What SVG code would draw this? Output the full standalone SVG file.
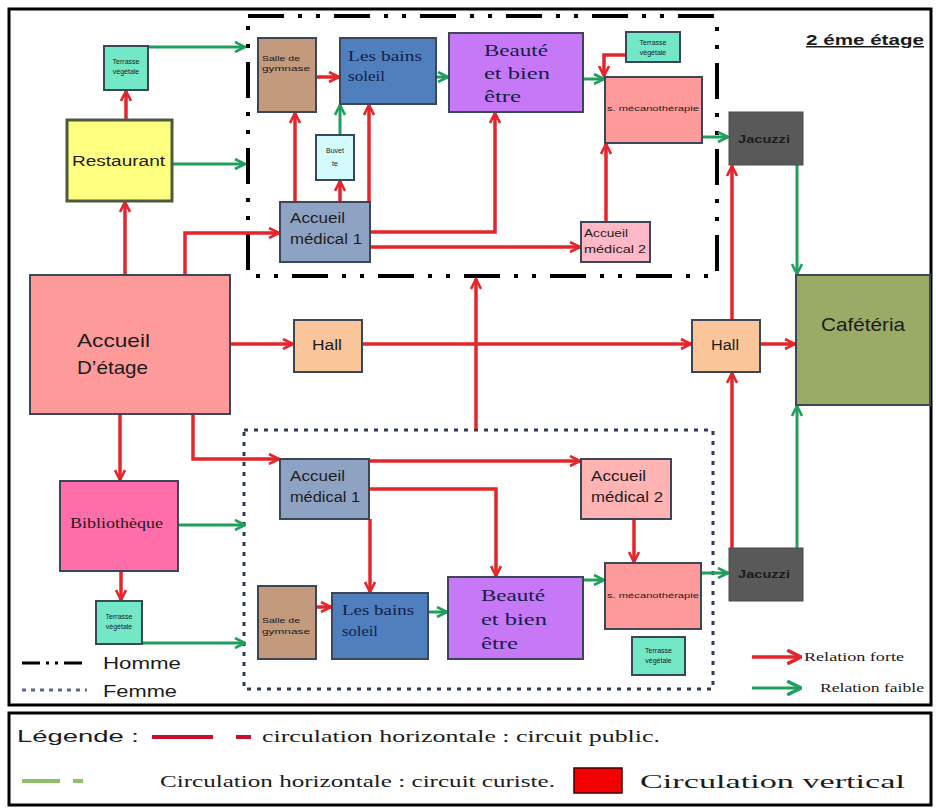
<svg xmlns="http://www.w3.org/2000/svg" width="936" height="812" viewBox="0 0 936 812">
  <defs>
    <marker id="ar" viewBox="0 0 12 12" refX="11" refY="6" markerWidth="12" markerHeight="12" markerUnits="userSpaceOnUse" orient="auto">
      <path d="M1,1 L11,6 L1,11" fill="none" stroke="#e4262b" stroke-width="2.6"/>
    </marker>
    <marker id="ag" viewBox="0 0 12 12" refX="11" refY="6" markerWidth="12" markerHeight="12" markerUnits="userSpaceOnUse" orient="auto">
      <path d="M1,1 L11,6 L1,11" fill="none" stroke="#1f9f5c" stroke-width="2.6"/>
    </marker>
    <marker id="arL" viewBox="0 0 14 14" refX="13" refY="7" markerWidth="16" markerHeight="16" markerUnits="userSpaceOnUse" orient="auto">
      <path d="M1,1 L13,7 L1,13" fill="none" stroke="#e4262b" stroke-width="3"/>
    </marker>
    <marker id="agL" viewBox="0 0 14 14" refX="13" refY="7" markerWidth="16" markerHeight="16" markerUnits="userSpaceOnUse" orient="auto">
      <path d="M1,1 L13,7 L1,13" fill="none" stroke="#1f9f5c" stroke-width="3"/>
    </marker>
  </defs>
  <style>
    .node { stroke: #3b4756; stroke-width: 2; }
    .r { fill: none; stroke: #e4262b; stroke-width: 3.5; marker-end: url(#ar); }
    .g { fill: none; stroke: #1f9f5c; stroke-width: 3; marker-end: url(#ag); }
    .sans { font-family: "Liberation Sans", Arial, sans-serif; fill: #1c1c1c; }
    .serif { font-family: "Liberation Serif", "Times New Roman", serif; fill: #1c1c1c; }
    .tiny { font-family: "Liberation Sans", Arial, sans-serif; font-size: 7px; fill: #1c1c1c; }
    .navy { fill: #14204a; }
    .homme { fill: none; stroke: #000; stroke-width: 4; stroke-dasharray: 36 14 4 14 4 14; }
    .femme { fill: none; stroke: #2c3a5c; stroke-width: 3; stroke-dasharray: 4 6; }
  </style>

  <rect width="936" height="812" fill="#fff"/>

  <!-- frames -->
  <rect x="9" y="9" width="922" height="696" fill="none" stroke="#000" stroke-width="3"/>
  <rect x="9" y="713" width="922" height="92" fill="none" stroke="#000" stroke-width="3"/>

  <g id="title">
    <text x="806" y="45" class="sans" font-size="15" font-weight="bold" text-decoration="underline" textLength="118" lengthAdjust="spacingAndGlyphs">2 éme étage</text>
  </g>

  <!-- zone outlines -->
  <g id="zone-homme"><rect x="248" y="16" width="469" height="260" class="homme"/></g>
  <g id="zone-femme"><rect x="244" y="430" width="469" height="259" class="femme"/></g>

  <!-- connectors -->
  <g id="connectors">
    <!-- upper circuit -->
    <path class="r" d="M125,275 V202"/>
    <path class="r" d="M126,120 V91"/>
    <path class="g" d="M148,47 H245"/>
    <path class="g" d="M172,164 H245"/>
    <path class="r" d="M185,275 V233 H279"/>
    <path class="r" d="M295,202 V113"/>
    <path class="r" d="M340,202 V181"/>
    <path class="g" d="M340,135 V105"/>
    <path class="r" d="M369,202 V105"/>
    <path class="r" d="M370,232 H495 V113"/>
    <path class="r" d="M370,247 H580"/>
    <path class="r" d="M316,77 H339"/>
    <path class="g" d="M436,77 H448"/>
    <path class="g" d="M583,79 H604"/>
    <path class="r" d="M626,55 H604 V76"/>
    <path class="r" d="M606,222 V144"/>
    <path class="g" d="M702,137 H728"/>
    <path class="g" d="M797,165 V274"/>
    <path class="r" d="M732,320 V166"/>
    <!-- central axis -->
    <path class="r" d="M230,344 H293"/>
    <path class="r" d="M362,344 H691"/>
    <path class="r" d="M760,344 H795"/>
    <path class="r" d="M476,429 V279"/>
    <path class="r" d="M732,548 V373"/>
    <path class="g" d="M797,548 V406"/>
    <!-- lower circuit -->
    <path class="r" d="M120,414 V480"/>
    <path class="r" d="M193,414 V459 H279"/>
    <path class="g" d="M178,525 H245"/>
    <path class="r" d="M121,571 V600"/>
    <path class="g" d="M142,643 H245"/>
    <path class="r" d="M369,461 H580"/>
    <path class="r" d="M369,489 H496 V576"/>
    <path class="r" d="M370,519 V592"/>
    <path class="r" d="M634,519 V562"/>
    <path class="r" d="M316,607 H331"/>
    <path class="g" d="M428,612 H447"/>
    <path class="g" d="M583,580 H604"/>
    <path class="g" d="M701,573 H728"/>
  </g>

  <!-- upper (Homme) nodes -->
  <g id="terrasse-resto">
    <rect x="104" y="46" width="44" height="44" fill="#72e8c6" class="node"/>
    <text x="126" y="64" class="tiny" text-anchor="middle" font-size="6">Terrasse</text>
    <text x="126" y="74" class="tiny" text-anchor="middle" font-size="6">végétale</text>
  </g>
  <g id="restaurant">
    <rect x="67" y="120" width="105" height="81" fill="#ffff80" stroke="#4c5a3e" stroke-width="3"/>
    <text x="72" y="166" class="sans" font-size="14" textLength="93" lengthAdjust="spacingAndGlyphs">Restaurant</text>
  </g>
  <g id="salle-gym-h">
    <rect x="258" y="38" width="58" height="74" fill="#c39a7c" class="node"/>
    <text x="262" y="61" class="tiny" font-size="8" textLength="38" lengthAdjust="spacingAndGlyphs">Salle de</text>
    <text x="262" y="71" class="tiny" font-size="8" textLength="48" lengthAdjust="spacingAndGlyphs">gymnase</text>
  </g>
  <g id="bains-h">
    <rect x="340" y="38" width="96" height="66" fill="#4f7fbd" class="node"/>
    <text x="348" y="61" class="serif navy" font-size="14" textLength="74" lengthAdjust="spacingAndGlyphs">Les bains</text>
    <text x="348" y="81" class="serif navy" font-size="14" textLength="37" lengthAdjust="spacingAndGlyphs">soleil</text>
  </g>
  <g id="beaute-h">
    <rect x="449" y="33" width="134" height="79" fill="#c778f7" class="node"/>
    <text x="484" y="56" class="serif navy" font-size="17" textLength="64" lengthAdjust="spacingAndGlyphs">Beauté</text>
    <text x="484" y="79" class="serif navy" font-size="17" textLength="66" lengthAdjust="spacingAndGlyphs">et bien</text>
    <text x="484" y="102" class="serif navy" font-size="17" textLength="37" lengthAdjust="spacingAndGlyphs">être</text>
  </g>
  <g id="terrasse-h">
    <rect x="626" y="32" width="54" height="30" fill="#72e8c6" class="node"/>
    <text x="653" y="45" class="tiny" text-anchor="middle" font-size="6">Terrasse</text>
    <text x="653" y="55" class="tiny" text-anchor="middle" font-size="6">végétale</text>
  </g>
  <g id="meca-h">
    <rect x="605" y="77" width="97" height="66" fill="#ff9a9a" class="node"/>
    <text x="607" y="111" class="tiny" font-size="8" textLength="92" lengthAdjust="spacingAndGlyphs">s. mécanothérapie</text>
  </g>
  <g id="buvette">
    <rect x="316" y="135" width="38" height="45" fill="#d3fbfb" class="node"/>
    <text x="335" y="153" class="tiny" text-anchor="middle" font-size="8">Buvet</text>
    <text x="335" y="166" class="tiny" text-anchor="middle" font-size="8">te</text>
  </g>
  <g id="accueil-med1-h">
    <rect x="280" y="202" width="90" height="60" fill="#8ea3c4" class="node"/>
    <text x="290" y="223" class="sans" font-size="14" textLength="55" lengthAdjust="spacingAndGlyphs">Accueil</text>
    <text x="290" y="244" class="sans" font-size="14" textLength="72" lengthAdjust="spacingAndGlyphs">médical 1</text>
  </g>
  <g id="accueil-med2-h">
    <rect x="581" y="222" width="69" height="40" fill="#ffb8c6" class="node"/>
    <text x="584" y="237" class="sans" font-size="10" textLength="44" lengthAdjust="spacingAndGlyphs">Accueil</text>
    <text x="584" y="253" class="sans" font-size="10" textLength="62" lengthAdjust="spacingAndGlyphs">médical 2</text>
  </g>
  <g id="jacuzzi-h">
    <rect x="729" y="112" width="74" height="53" fill="#595959" stroke="#4a4a4a" stroke-width="1"/>
    <text x="738" y="143" class="sans" font-size="11" font-weight="bold" fill="#000" textLength="52" lengthAdjust="spacingAndGlyphs">Jacuzzi</text>
  </g>

  <!-- central nodes -->
  <g id="accueil-etage">
    <rect x="30" y="275" width="200" height="139" fill="#ff9a9a" class="node"/>
    <text x="77" y="347" class="sans" font-size="19" fill="#3a1a1a" textLength="73" lengthAdjust="spacingAndGlyphs">Accueil</text>
    <text x="77" y="374" class="sans" font-size="19" fill="#3a1a1a" textLength="71" lengthAdjust="spacingAndGlyphs">D’étage</text>
  </g>
  <g id="hall-1">
    <rect x="294" y="320" width="68" height="52" fill="#fbc59a" class="node"/>
    <text x="312" y="350" class="sans" font-size="14" textLength="30" lengthAdjust="spacingAndGlyphs">Hall</text>
  </g>
  <g id="hall-2">
    <rect x="692" y="320" width="68" height="52" fill="#fbc59a" class="node"/>
    <text x="711" y="350" class="sans" font-size="14" textLength="28" lengthAdjust="spacingAndGlyphs">Hall</text>
  </g>
  <g id="cafeteria">
    <rect x="796" y="275" width="134" height="130" fill="#9aab66" class="node"/>
    <text x="821" y="331" class="sans" font-size="18" textLength="84" lengthAdjust="spacingAndGlyphs">Cafétéria</text>
  </g>

  <!-- lower (Femme) nodes -->
  <g id="bibliotheque">
    <rect x="60" y="481" width="118" height="90" fill="#ff6ea8" class="node"/>
    <text x="70" y="528" class="serif" font-size="15" fill="#3a1020" textLength="93" lengthAdjust="spacingAndGlyphs">Bibliothèque</text>
  </g>
  <g id="terrasse-biblio">
    <rect x="96" y="601" width="46" height="43" fill="#72e8c6" class="node"/>
    <text x="119" y="619" class="tiny" text-anchor="middle" font-size="6">Terrasse</text>
    <text x="119" y="629" class="tiny" text-anchor="middle" font-size="6">végétale</text>
  </g>
  <g id="accueil-med1-f">
    <rect x="280" y="459" width="89" height="60" fill="#8ea3c4" class="node"/>
    <text x="290" y="481" class="sans" font-size="14" textLength="55" lengthAdjust="spacingAndGlyphs">Accueil</text>
    <text x="290" y="502" class="sans" font-size="14" textLength="70" lengthAdjust="spacingAndGlyphs">médical 1</text>
  </g>
  <g id="accueil-med2-f">
    <rect x="581" y="459" width="90" height="60" fill="#ffb3b3" class="node"/>
    <text x="591" y="481" class="sans" font-size="14" textLength="55" lengthAdjust="spacingAndGlyphs">Accueil</text>
    <text x="591" y="502" class="sans" font-size="14" textLength="72" lengthAdjust="spacingAndGlyphs">médical 2</text>
  </g>
  <g id="salle-gym-f">
    <rect x="258" y="586" width="58" height="73" fill="#c39a7c" class="node"/>
    <text x="262" y="623" class="tiny" font-size="8" textLength="38" lengthAdjust="spacingAndGlyphs">Salle de</text>
    <text x="262" y="634" class="tiny" font-size="8" textLength="48" lengthAdjust="spacingAndGlyphs">gymnase</text>
  </g>
  <g id="bains-f">
    <rect x="332" y="593" width="96" height="66" fill="#4f7fbd" class="node"/>
    <text x="342" y="615" class="serif navy" font-size="14" textLength="72" lengthAdjust="spacingAndGlyphs">Les bains</text>
    <text x="342" y="636" class="serif navy" font-size="14" textLength="36" lengthAdjust="spacingAndGlyphs">soleil</text>
  </g>
  <g id="beaute-f">
    <rect x="448" y="577" width="135" height="82" fill="#c778f7" class="node"/>
    <text x="481" y="601" class="serif navy" font-size="17" textLength="64" lengthAdjust="spacingAndGlyphs">Beauté</text>
    <text x="481" y="625" class="serif navy" font-size="17" textLength="66" lengthAdjust="spacingAndGlyphs">et bien</text>
    <text x="481" y="649" class="serif navy" font-size="17" textLength="37" lengthAdjust="spacingAndGlyphs">être</text>
  </g>
  <g id="meca-f">
    <rect x="605" y="563" width="96" height="66" fill="#ff9a9a" class="node"/>
    <text x="607" y="598" class="tiny" font-size="8" textLength="92" lengthAdjust="spacingAndGlyphs">s. mécanothérapie</text>
  </g>
  <g id="terrasse-f">
    <rect x="632" y="637" width="53" height="38" fill="#72e8c6" class="node"/>
    <text x="658.5" y="653" class="tiny" text-anchor="middle" font-size="6">Terrasse</text>
    <text x="658.5" y="663" class="tiny" text-anchor="middle" font-size="6">végétale</text>
  </g>
  <g id="jacuzzi-f">
    <rect x="729" y="548" width="74" height="53" fill="#595959" stroke="#4a4a4a" stroke-width="1"/>
    <text x="738" y="578" class="sans" font-size="11" font-weight="bold" fill="#000" textLength="52" lengthAdjust="spacingAndGlyphs">Jacuzzi</text>
  </g>

  <!-- in-frame key -->
  <g id="key-zones">
    <line x1="22" y1="663" x2="87" y2="663" stroke="#000" stroke-width="3" stroke-dasharray="18 6 3 6 3 6"/>
    <text x="103" y="669" class="sans" font-size="16" fill="#333" textLength="78" lengthAdjust="spacingAndGlyphs">Homme</text>
    <line x1="22" y1="690" x2="87" y2="690" stroke="#5a6a8a" stroke-width="3" stroke-dasharray="4 5"/>
    <text x="103" y="697" class="sans" font-size="16" fill="#333" textLength="74" lengthAdjust="spacingAndGlyphs">Femme</text>
  </g>
  <g id="key-relations">
    <line x1="752" y1="657" x2="801" y2="657" stroke="#e4262b" stroke-width="3.5" marker-end="url(#arL)"/>
    <text x="804" y="661" class="serif" font-size="12" textLength="100" lengthAdjust="spacingAndGlyphs">Relation forte</text>
    <line x1="752" y1="688" x2="801" y2="688" stroke="#1f9f5c" stroke-width="3" marker-end="url(#agL)"/>
    <text x="820" y="692" class="serif" font-size="12" textLength="104" lengthAdjust="spacingAndGlyphs">Relation faible</text>
  </g>

  <!-- legend panel -->
  <g id="legend">
    <text x="17" y="742" class="sans" font-size="17" fill="#333" textLength="122" lengthAdjust="spacingAndGlyphs">Légende :</text>
    <line x1="152" y1="737" x2="213" y2="737" stroke="#c8102e" stroke-width="4"/>
    <line x1="236" y1="737" x2="251" y2="737" stroke="#c8102e" stroke-width="4"/>
    <text x="262" y="742" class="serif" font-size="17" textLength="398" lengthAdjust="spacingAndGlyphs">circulation horizontale : circuit public.</text>
    <line x1="22" y1="781" x2="60" y2="781" stroke="#8fbf6a" stroke-width="4"/>
    <line x1="73" y1="781" x2="83" y2="781" stroke="#8fbf6a" stroke-width="4"/>
    <text x="160" y="787" class="serif" font-size="17" textLength="395" lengthAdjust="spacingAndGlyphs">Circulation horizontale : circuit curiste.</text>
    <rect x="574" y="768" width="48" height="25" fill="#f40000" stroke="#3a0000" stroke-width="1.5"/>
    <text x="640" y="788" class="serif" font-size="19" textLength="265" lengthAdjust="spacingAndGlyphs">Circulation vertical</text>
  </g>
</svg>
